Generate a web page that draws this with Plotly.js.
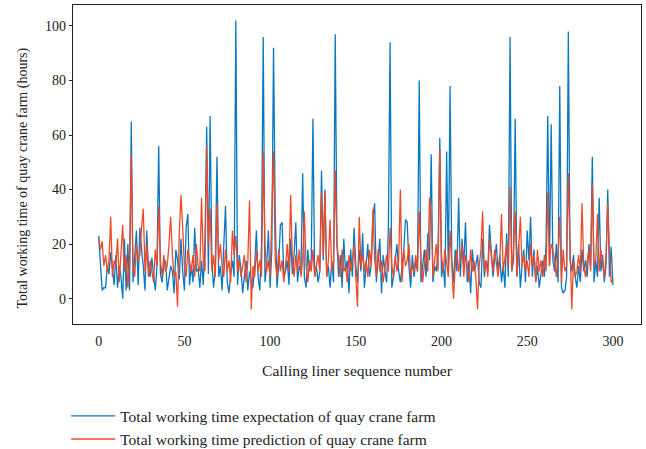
<!DOCTYPE html>
<html>
<head>
<meta charset="utf-8">
<script src="https://cdn.plot.ly/plotly-3.0.1.min.js"></script>
<style>html,body{margin:0;padding:0;background:#fff;}#chart{width:646px;height:449px;}</style>
</head>
<body>
<div id="chart"></div>
<script>
const seriesNames = [
  "Total working time expectation of quay crane farm",
  "Total working time prediction of quay crane farm"
];
const expectation = [
  23, 14, 3, 4, 4, 12, 9, 17, 10, 5,
  16, 4, 12, 8, 0, 22, 3, 20, 3, 65,
  6, 14, 25, 5, 26, 18, 12, 3, 25, 12,
  8, 15, 10, 3, 12, 56, 9, 6, 12, 14,
  3, 8, 12, 10, 2, 18, 14, 7, 22, 10,
  3, 26, 31, 5, 12, 6, 26, 10, 11, 4,
  14, 5, 22, 63, 9, 67, 15, 4, 10, 52,
  8, 12, 3, 20, 34, 6, 2, 9, 14, 8,
  102, 5, 16, 11, 2, 8, 14, 3, 10, 6,
  4, 12, 25, 8, 3, 20, 96, 6, 12, 25,
  4, 18, 92, 30, 4, 12, 27, 28, 8, 10,
  14, 5, 22, 9, 16, 28, 6, 12, 10, 46,
  8, 4, 18, 10, 14, 66, 8, 12, 6, 10,
  47, 14, 40, 8, 12, 4, 14, 6, 97, 20,
  8, 16, 4, 22, 10, 14, 2, 18, 8, 26,
  12, 6, 18, 10, 24, 4, 14, 20, 8, 12,
  30, 35, 6, 14, 22, 2, 16, 10, 6, 26,
  94, 4, 8, 14, 20, 10, 6, 12, 18, 29,
  28, 12, 4, 16, 8, 14, 10, 80, 6, 12,
  18, 8, 24, 14, 53, 6, 12, 10, 18, 59,
  8, 12, 4, 54, 10, 78, 14, 6, 18, 10,
  37, 8, 22, 12, 28, 6, 14, 2, 18, 10,
  12, 16, 6, 4, 22, 8, 14, 10, 27, 18,
  8, 14, 20, 10, 16, 6, 12, 4, 24, 8,
  96, 10, 14, 66, 8, 20, 4, 12, 18, 6,
  25, 14, 30, 8, 18, 6, 12, 4, 10, 14,
  8, 20, 67, 12, 64, 14, 10, 20, 6, 78,
  4, 2, 3, 8, 98, 14, 10, 16, 8, 4,
  12, 6, 18, 10, 14, 8, 20, 12, 52, 6,
  14, 8, 37, 10, 16, 6, 12, 40, 8, 19,
  5
];
const prediction = [
  22, 18, 21, 12, 16, 10, 14, 30, 8, 14,
  12, 22, 6, 18, 27, 10, 16, 4, 14, 53,
  12, 8, 20, 14, 16, 26, 33, 10, 20, 8,
  14, 10, 6, 18, 12, 34, 14, 8, 16, 10,
  12, 20, 30, 16, 8, 10, -3, 24, 38, 26,
  12, 8, 18, 14, 10, 16, 8, 20, 12, 10,
  37, 14, 10, 56, 20, 33, 10, 16, 8, 35,
  14, 20, 12, 8, 18, 10, 14, 6, 25, 16,
  23, 10, 14, 8, 12, 16, 6, 14, 36, -4,
  12, 8, 18, 10, 14, 8, 54, 20, 10, 14,
  8, 32, 54, 14, 8, 18, 10, 14, 6, 12,
  20, 10, 38, 14, 8, 16, 10, 18, 8, 14,
  32, 12, 6, 14, 10, 18, 8, 12, 16, 10,
  39, 16, 39, 8, 14, 29, 10, 12, 47, 20,
  14, 8, 18, 10, 12, 6, 16, 10, 14, 20,
  8, -3, 30, 12, 16, 10, 14, 8, 18, 12,
  33, 14, 8, 18, 10, 14, 6, 12, 16, 10,
  26, 12, 8, 16, 10, 14, 40, 6, 18, 12,
  14, 20, 8, 12, 10, 16, 10, 32, 14, 6,
  12, 18, 10, 37, 31, 8, 14, 20, 10, 55,
  16, 10, 18, 12, 8, 25, 14, 0, 12, 18,
  10, 14, 20, 8, 16, 12, 6, 18, 10, 14,
  8, -4, 12, 18, 32, 10, 14, 8, 22, 16,
  10, 18, 12, 8, 14, 31, 10, 16, 20, 12,
  41, 10, 18, 32, 8, 18, 30, 12, 16, 10,
  14, 8, 20, 12, 16, 6, 18, 10, 14, 8,
  16, 10, 39, 12, 20, 18, 14, 8, 16, 30,
  6, 18, 10, 12, 46, 20, -4, 14, 8, 10,
  16, 10, 35, 12, 8, 14, 18, 10, 42, 12,
  14, 31, 10, 18, 12, 8, 16, 35, 17, 6,
  7
];
const xTicks = [0, 50, 100, 150, 200, 250, 300];
const yTicks = [0, 20, 40, 60, 80, 100];
const xTitle = "Calling liner sequence number";
const yTitle = "Total working time of quay crane farm (hours)";

const seq = expectation.map((_, i) => i);
const FONT = "Liberation Serif, Times New Roman, serif";

const traces = [
  {x: seq, y: expectation, type: 'scatter', mode: 'lines', name: seriesNames[0],
   line: {color: '#0a78c0', width: 1.3}},
  {x: seq, y: prediction, type: 'scatter', mode: 'lines', name: seriesNames[1],
   line: {color: '#ee4a2a', width: 1.3}}
];

const layout = {
  width: 646, height: 449,
  margin: {l: 72.5, r: 5.3, t: 5, b: 124.7, pad: 0, autoexpand: false},
  paper_bgcolor: '#fff', plot_bgcolor: '#fff',
  font: {family: FONT, size: 14, color: '#222'},
  showlegend: true,
  legend: {x: -0.012, xanchor: 'left', y: -0.236, yanchor: 'top', orientation: 'v',
           itemwidth: 44, font: {family: FONT, size: 15.5, color: '#222'},
           tracegroupgap: 0, bgcolor: 'rgba(0,0,0,0)'},
  xaxis: {range: [-15, 316.4], tickvals: xTicks, ticks: '', showgrid: false, zeroline: false,
          showline: true, mirror: true, linecolor: '#222', linewidth: 1.2,
          ticklabelstandoff: 4,
          tickfont: {family: FONT, size: 14, color: '#222'},
          title: {text: xTitle, font: {family: FONT, size: 15.5, color: '#222'}, standoff: 17}},
  yaxis: {range: [-9.3, 107.7], tickvals: yTicks, ticks: 'outside', ticklen: 3, tickcolor: '#222',
          showgrid: false, zeroline: false,
          showline: true, mirror: true, linecolor: '#222', linewidth: 1.2,
          tickfont: {family: FONT, size: 14, color: '#222'}},
  annotations: [
    {text: yTitle, xref: 'paper', yref: 'paper', x: 0, y: 0.5, xanchor: 'center', yanchor: 'middle',
     xshift: -50.5, yshift: -13.5, textangle: -90, showarrow: false,
     font: {family: FONT, size: 14, color: '#222'}}
  ]
};

Plotly.newPlot('chart', traces, layout, {displayModeBar: false, staticPlot: true});
</script>
</body>
</html>
